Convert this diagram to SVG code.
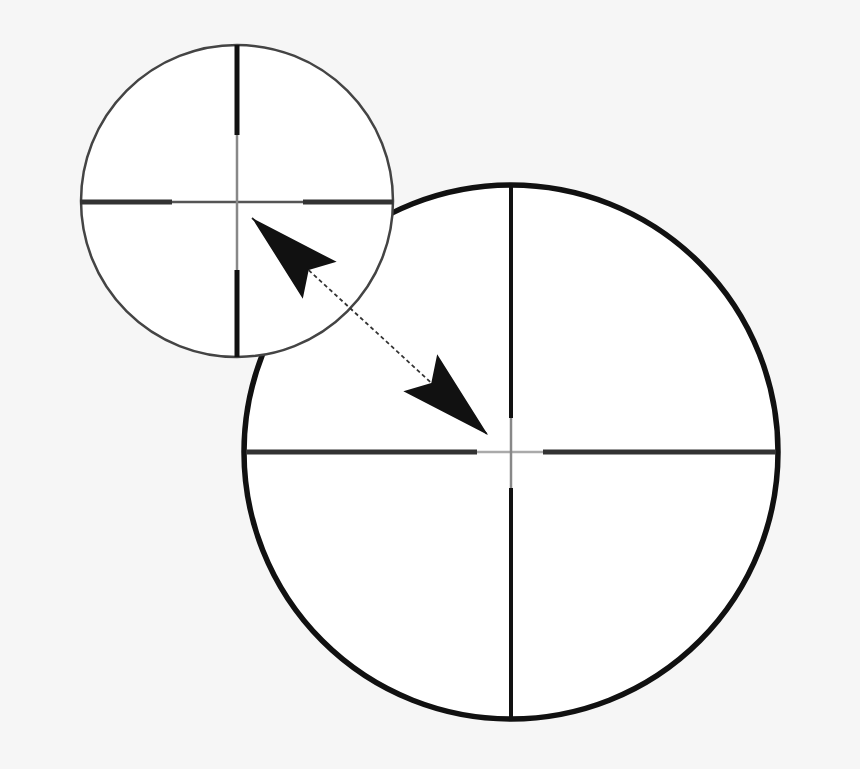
<svg xmlns="http://www.w3.org/2000/svg" width="860" height="769" viewBox="0 0 860 769">
<style>
.thin{stroke:#555;stroke-width:2.5;fill:none}
.thick{stroke:#111;stroke-width:5;fill:none}
.thickh{stroke:#333;stroke-width:5;fill:none}
</style>
<defs>
<marker id="head" markerUnits="userSpaceOnUse" viewBox="-100 -30 110 60" refX="0" refY="0" markerWidth="110" markerHeight="60" orient="auto-start-reverse" overflow="visible">
<path d="M0,0 L-92,-25 L-77,0 L-92,25 Z" fill="#111"/>
</marker>
</defs>
<rect width="860" height="769" fill="#f6f6f6"/>
<g id="large-circle">
<circle cx="511" cy="452" r="267" fill="#fff" stroke="#111" stroke-width="5.5"/>
<line class="thickh" x1="246" y1="452" x2="477" y2="452"/>
<line class="thickh" x1="543" y1="452" x2="776" y2="452"/>
<line class="thin" x1="477" y1="452" x2="543" y2="452" style="stroke:#aaa"/>
<line class="thick" x1="511" y1="187" x2="511" y2="418" style="stroke-width:4"/>
<line class="thick" x1="511" y1="488" x2="511" y2="718" style="stroke-width:4"/>
<line class="thin" x1="511" y1="418" x2="511" y2="488" style="stroke:#888"/>
</g>
<g id="small-circle">
<circle cx="237" cy="201" r="156" fill="#fff" stroke="#444" stroke-width="2.5"/>
<line class="thin" x1="80" y1="202" x2="393" y2="202"/>
<line class="thin" x1="237" y1="45" x2="237" y2="357" style="stroke:#888"/>
<line class="thickh" x1="80" y1="202" x2="172" y2="202"/>
<line class="thickh" x1="303" y1="202" x2="393" y2="202"/>
<line class="thick" x1="237" y1="45" x2="237" y2="135"/>
<line class="thick" x1="237" y1="270" x2="237" y2="357"/>
</g>
<g id="connectors">
<line x1="252" y1="218" x2="488" y2="435" stroke="#333" stroke-width="1.8" stroke-dasharray="4 3" marker-start="url(#head)" marker-end="url(#head)"/>
</g>
</svg>
